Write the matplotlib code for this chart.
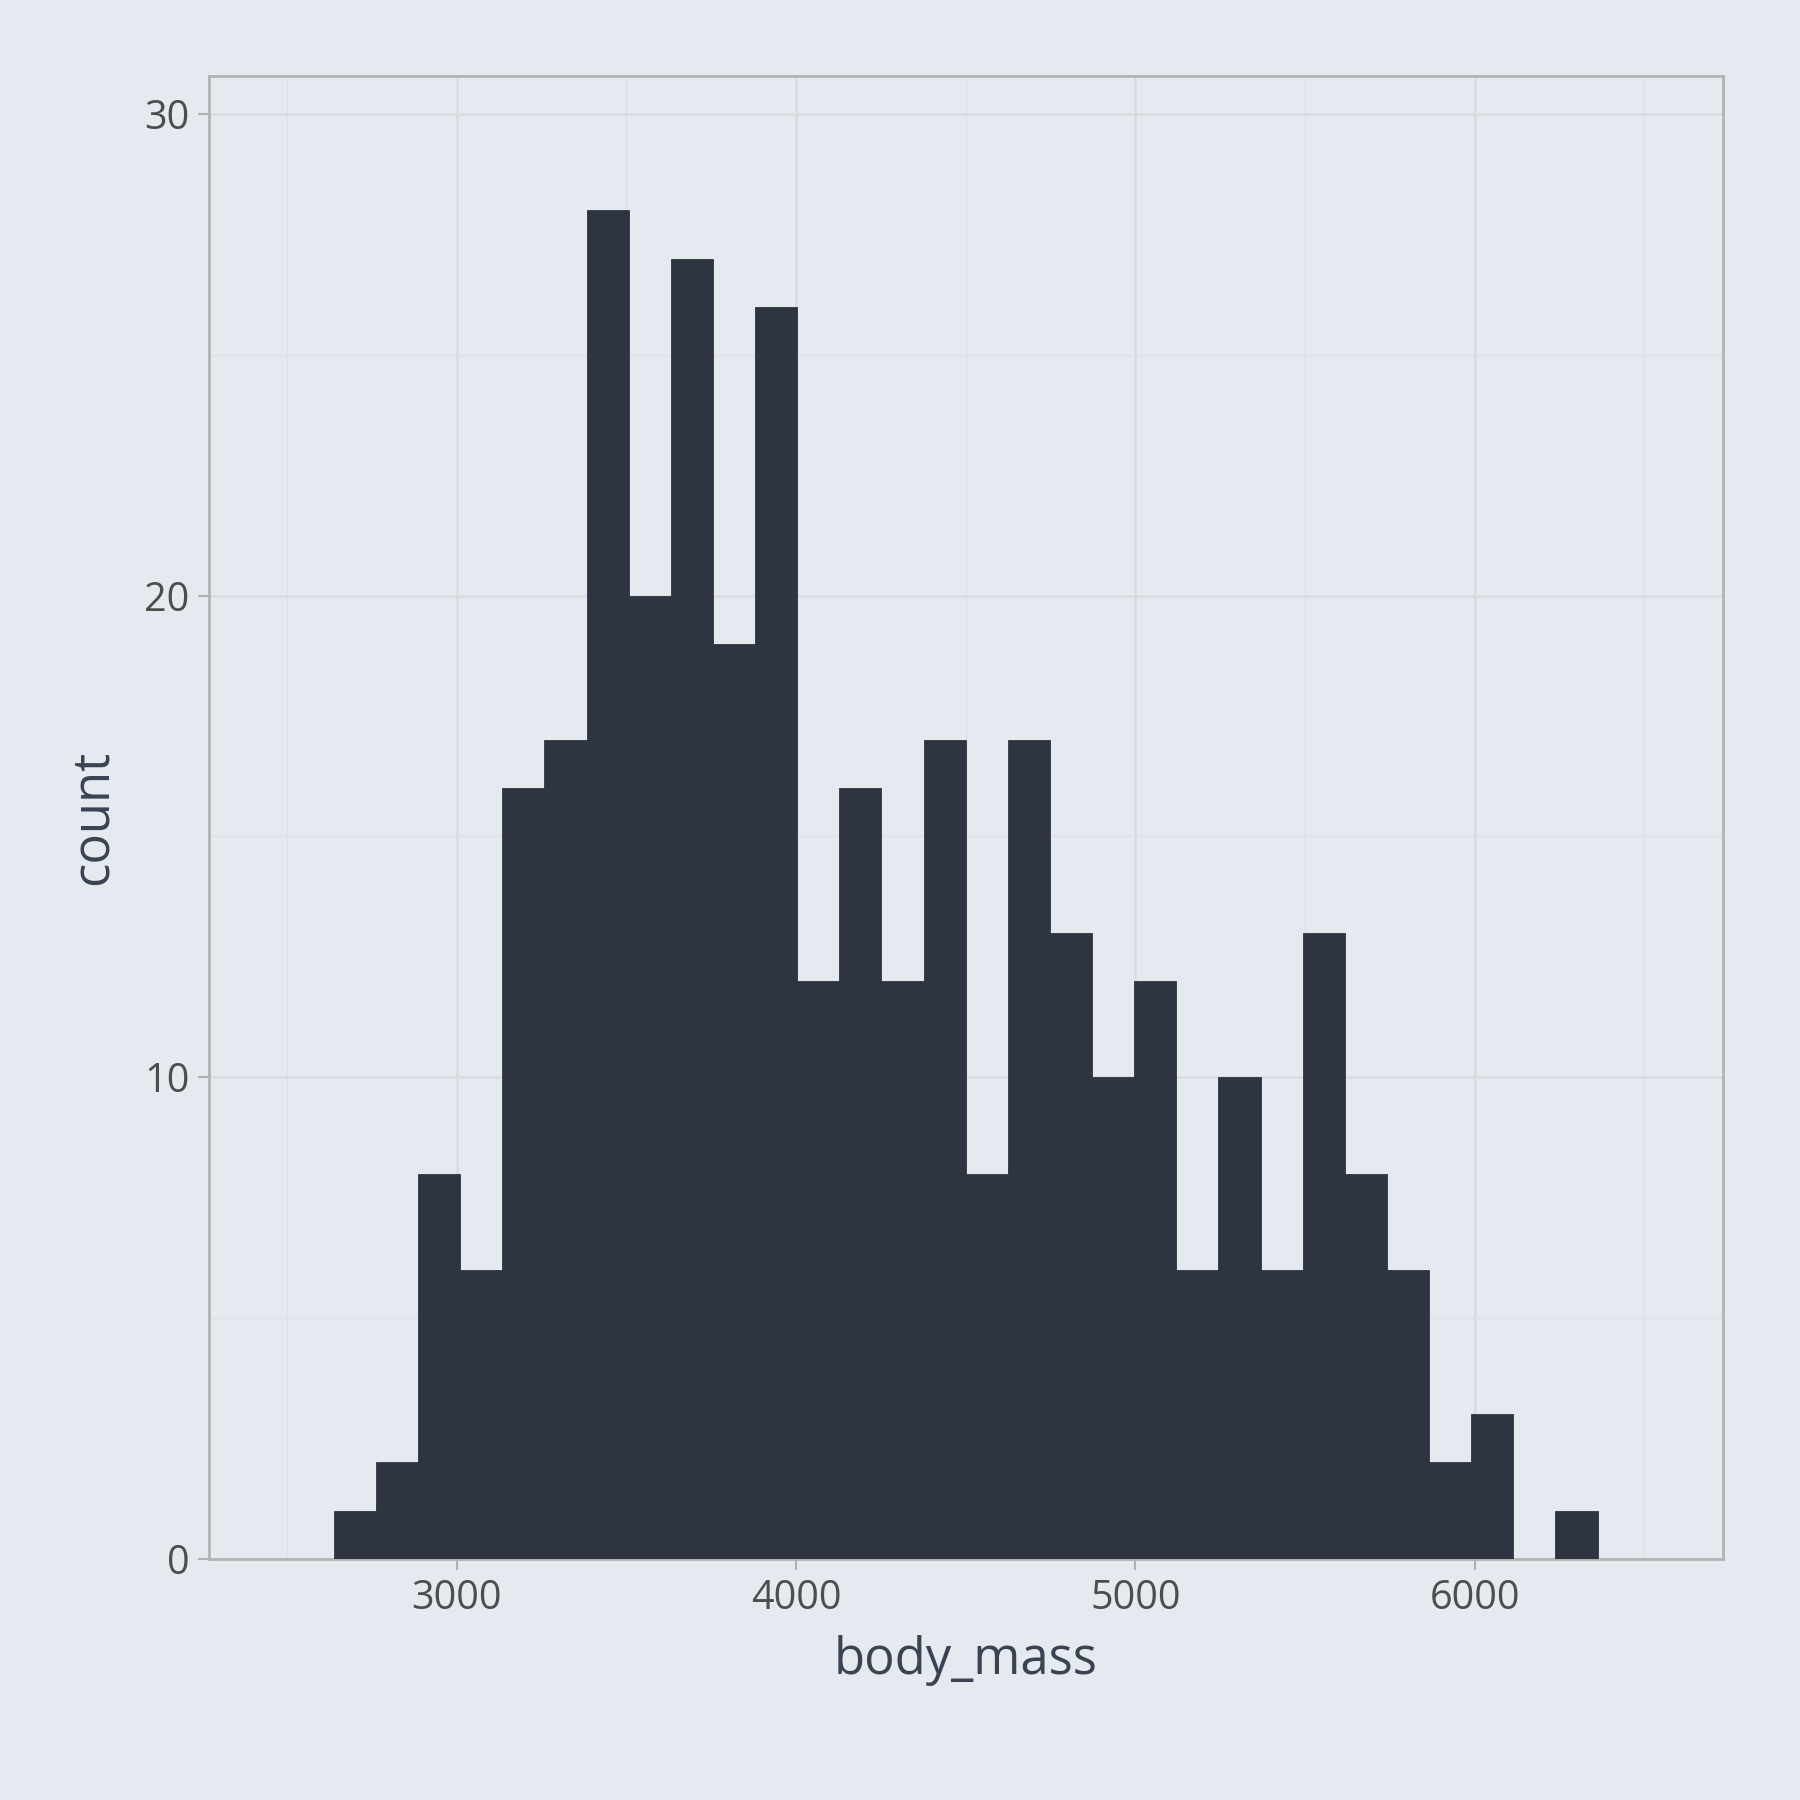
import numpy as np
import matplotlib.pyplot as plt

# histogram of body_mass, 30 bins centred from 2700 to 6300
bin_centers = np.linspace(2700, 6300, 30)
counts = [1, 2, 8, 6, 16, 17, 28, 20, 27, 19, 26, 12, 16, 12, 17,
          8, 17, 13, 10, 12, 6, 10, 6, 13, 8, 6, 2, 3, 0, 1]
x_ticks = [3000, 4000, 5000, 6000]
y_ticks = [0, 10, 20, 30]

bg = '#e5e9f0'
bar_color = '#2e3440'
plt.rcParams['font.family'] = ['Open Sans', 'DejaVu Sans']

fig = plt.figure(figsize=(18, 18), dpi=100, facecolor=bg)
ax = fig.add_axes([0.116, 0.134, 0.841, 0.824])
ax.set_facecolor(bg)

width = bin_centers[1] - bin_centers[0]
ax.bar(bin_centers, counts, width=width, color=bar_color,
       edgecolor=bar_color, linewidth=0.6, zorder=3)

lo = bin_centers[0] - width / 2
hi = bin_centers[-1] + width / 2
pad = (hi - lo) * 0.1
ax.set_xlim(lo - pad + 4, hi + pad - 4)
ax.set_ylim(0, max(counts) * 1.1)

ax.set_xticks(x_ticks)
ax.set_yticks(y_ticks)
ax.set_xticks([2500, 3500, 4500, 5500, 6500], minor=True)
ax.set_yticks([5, 15, 25], minor=True)
ax.grid(which='major', color='#d8dbe0', linewidth=1.8, zorder=0)
ax.grid(which='minor', color='#dde0e5', linewidth=1.0, zorder=0)
ax.set_axisbelow(True)

ax.tick_params(which='major', length=8, width=1.5, color='#b0b0b0',
               labelsize=28.5, labelcolor='#4d4d4d', pad=6)
ax.tick_params(which='minor', length=0)
for s in ax.spines.values():
    s.set_color('#b3b3b3')
    s.set_linewidth(2)

ax.set_xlabel('body_mass', fontsize=36.5, color='#3b4252', labelpad=12)
ax.set_ylabel('count', fontsize=36.5, color='#3b4252', labelpad=18)

fig.savefig('out.png', dpi=100, facecolor=bg)
